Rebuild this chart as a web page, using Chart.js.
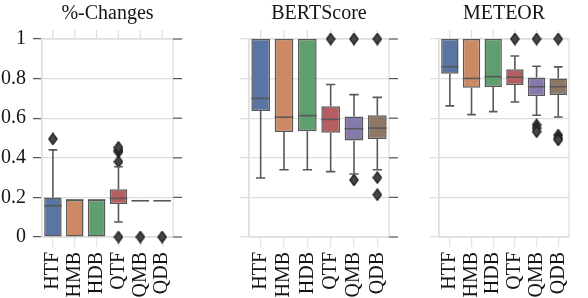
<!DOCTYPE html>
<html>
<head>
<meta charset="utf-8">
<script src="https://cdn.jsdelivr.net/npm/chart.js@4.4.1/dist/chart.umd.min.js"></script>
<style>
  body { margin: 0; background: #fff; }
  #wrap { position: relative; width: 588px; height: 298px; overflow: hidden; }
  canvas { position: absolute; top: 0; }
</style>
</head>
<body>
<div id="wrap">
  <canvas id="c1" width="192" height="298" style="left:0px"></canvas>
  <canvas id="c2" width="210" height="298" style="left:200px"></canvas>
  <canvas id="c3" width="188" height="298" style="left:400px"></canvas>
</div>
<script>
// Categories and colours (seaborn "deep", desaturated)
const categories = ['HTF', 'HMB', 'HDB', 'QTF', 'QMB', 'QDB'];
const boxColors = ['#5875a4', '#cc8963', '#5f9e6e', '#b55d60', '#857aab', '#8d7866'];

// %-Changes
const changesLow  = [0,     0,     0,     0.076, 0.181, 0.181];
const changesQ1   = [0,     0,     0,     0.167, 0.181, 0.181];
const changesMed  = [0.158, 0.187, 0.187, 0.195, 0.183, 0.183];
const changesQ3   = [0.2,   0.187, 0.187, 0.241, 0.185, 0.185];
const changesHigh = [0.44,  0.187, 0.187, 0.355, 0.185, 0.185];
const changesOut  = [[0.495], [], [], [0, 0.38, 0.43, 0.44, 0.453], [0], [0]];

// BERTScore
const bertLow  = [0.298, 0.34,  0.34,  0.33,  0.318, 0.34];
const bertQ1   = [0.636, 0.53,  0.534, 0.527, 0.487, 0.495];
const bertMed  = [0.70,  0.605, 0.613, 0.594, 0.547, 0.55];
const bertQ3   = [1,     1,     1,     0.66,  0.608, 0.615];
const bertHigh = [1,     1,     1,     0.77,  0.719, 0.705];
const bertOut  = [[], [], [], [1], [1, 0.288], [1, 0.30, 0.214]];

// METEOR
const meteorLow  = [0.662, 0.618, 0.633, 0.682, 0.615, 0.606];
const meteorQ1   = [0.825, 0.754, 0.758, 0.768, 0.712, 0.717];
const meteorMed  = [0.86,  0.801, 0.81,  0.807, 0.759, 0.759];
const meteorQ3   = [1,     1,     1,     0.847, 0.805, 0.801];
const meteorHigh = [1,     1,     1,     0.914, 0.862, 0.859];
const meteorOut  = [[], [], [], [1], [1, 0.566, 0.55, 0.532], [1, 0.515, 0.50, 0.49]];

const GRID = '#dedede';
const LINE = '#585858';
const TEXT = '#151515';
const FONT = "'Liberation Serif', 'Times New Roman', serif";

Chart.defaults.font.family = FONT;
Chart.defaults.font.size = 20;
Chart.defaults.color = TEXT;

// thin diamond marker like matplotlib "d"
function diamondMarker() {
  const c = document.createElement('canvas');
  c.width = 10; c.height = 13;
  const g = c.getContext('2d');
  g.beginPath();
  g.moveTo(5, 0.8); g.lineTo(9.2, 6.5); g.lineTo(5, 12.2); g.lineTo(0.8, 6.5);
  g.closePath();
  g.fillStyle = '#454545'; g.fill();
  g.strokeStyle = '#1a1a1a'; g.lineWidth = 1.2; g.stroke();
  return c;
}
const marker = diamondMarker();

function makePanel(id, title, low, q1, med, q3, high, out, yWidth, padRight, showLabels, rightTicks) {
  const parts = {
    id: 'boxParts',
    beforeDatasetsDraw(chart) {
      const { ctx, chartArea: a, scales: { x, y } } = chart;
      ctx.save();
      // title, centred over the plot area
      ctx.fillStyle = TEXT;
      ctx.font = '20px ' + FONT;
      ctx.textAlign = 'center';
      ctx.textBaseline = 'middle';
      ctx.fillText(title, (a.left + a.right) / 2, 14);
      ctx.strokeStyle = GRID;
      ctx.lineWidth = 1.25;
      ctx.strokeRect(a.left, a.top, a.right - a.left, a.bottom - a.top);
      // small ticks above the frame
      categories.forEach((c, i) => {
        const px = x.getPixelForValue(i);
        ctx.beginPath(); ctx.moveTo(px, a.top - 9); ctx.lineTo(px, a.top); ctx.stroke();
      });
      if (rightTicks) {
        ctx.strokeStyle = LINE;
        y.ticks.forEach(t => {
          const py = y.getPixelForValue(t.value);
          ctx.beginPath(); ctx.moveTo(a.right, py); ctx.lineTo(a.right + 9, py); ctx.stroke();
        });
      }
      ctx.restore();
    },
    afterDatasetsDraw(chart) {
      const { ctx, scales: { y } } = chart;
      const meta = chart.getDatasetMeta(0);
      ctx.save();
      ctx.strokeStyle = LINE;
      ctx.lineWidth = 1.6;
      meta.data.forEach((bar, i) => {
        const px = bar.x, half = bar.width / 2, cap = bar.width / 4;
        const yLo = y.getPixelForValue(low[i]), yHi = y.getPixelForValue(high[i]);
        const yQ1 = y.getPixelForValue(q1[i]), yQ3 = y.getPixelForValue(q3[i]);
        if (high[i] > q3[i]) {
          ctx.beginPath(); ctx.moveTo(px, yQ3); ctx.lineTo(px, yHi);
          ctx.moveTo(px - cap, yHi); ctx.lineTo(px + cap, yHi); ctx.stroke();
        }
        if (low[i] < q1[i]) {
          ctx.beginPath(); ctx.moveTo(px, yQ1); ctx.lineTo(px, yLo);
          ctx.moveTo(px - cap, yLo); ctx.lineTo(px + cap, yLo); ctx.stroke();
        }
        const yM = y.getPixelForValue(med[i]);
        ctx.beginPath(); ctx.moveTo(px - half, yM); ctx.lineTo(px + half, yM); ctx.stroke();
      });
      ctx.restore();
    }
  };

  const outliers = [];
  out.forEach((arr, i) => arr.forEach(v => outliers.push({ x: categories[i], y: v })));

  return new Chart(document.getElementById(id), {
    type: 'bar',
    data: {
      labels: categories,
      datasets: [
        {
          data: q1.map((v, i) => [v, q3[i]]),
          backgroundColor: boxColors,
          borderColor: LINE,
          borderWidth: 1.5,
          borderSkipped: false,
          barPercentage: 0.8,
          categoryPercentage: 1,
          clip: false
        },
        {
          type: 'scatter',
          data: outliers,
          pointStyle: marker,
          clip: false
        }
      ]
    },
    options: {
      responsive: false,
      animation: false,
      devicePixelRatio: 1,
      layout: { padding: { left: 0, right: padRight, top: 39, bottom: 0 } },
      plugins: {
        legend: { display: false },
        tooltip: { enabled: false },
        title: { display: false }
      },
      scales: {
        x: {
          offset: true,
          grid: { display: true, offset: false, drawOnChartArea: false, tickLength: 10, color: '#e4e4e4', lineWidth: 1.25 },
          border: { color: GRID, width: 1.25 },
          ticks: { color: TEXT, font: { family: FONT, size: 20 }, minRotation: 90, maxRotation: 90, padding: 5, autoSkip: false },
          afterFit: s => { s.height = 61; }
        },
        y: {
          min: 0,
          max: 1,
          grid: { color: GRID, lineWidth: 1.25, tickLength: 9, tickColor: showLabels ? LINE : GRID },
          border: { color: GRID, width: 1.25 },
          ticks: {
            display: showLabels,
            stepSize: 0.2,
            color: TEXT,
            padding: 7,
            font: { family: FONT, size: 20 },
            callback: v => String(+v.toFixed(1))
          },
          afterFit: s => { s.width = yWidth; }
        }
      }
    },
    plugins: [parts]
  });
}

makePanel('c1', '%-Changes', changesLow, changesQ1, changesMed, changesQ3, changesHigh, changesOut, 42, 10, true, true);
makePanel('c2', 'BERTScore', bertLow, bertQ1, bertMed, bertQ3, bertHigh, bertOut, 49, 21, false, true);
makePanel('c3', 'METEOR', meteorLow, meteorQ1, meteorMed, meteorQ3, meteorHigh, meteorOut, 39, 9, false, false);
</script>
</body>
</html>
